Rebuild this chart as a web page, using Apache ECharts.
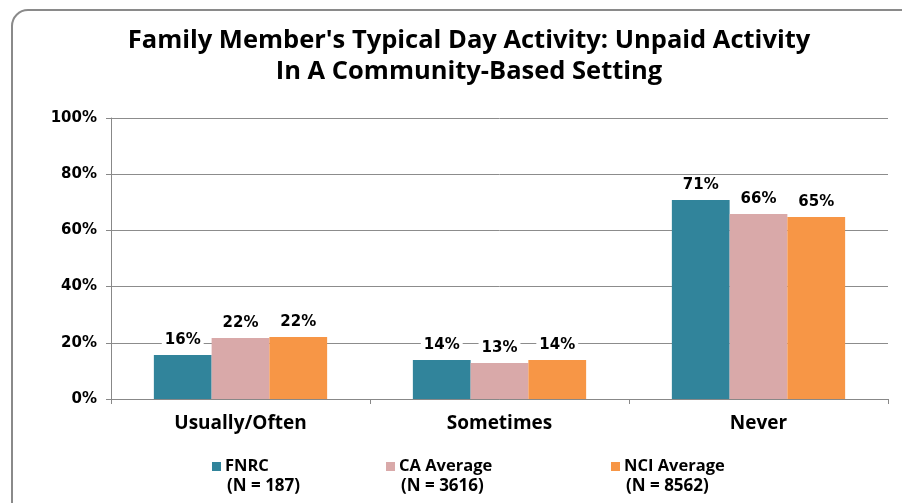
<!DOCTYPE html>
<html><head><meta charset="utf-8">
<script src="https://cdn.jsdelivr.net/npm/echarts@6/dist/echarts.min.js"></script>
<style>html,body{margin:0;padding:0;background:#fff}#c{width:902px;height:503px}</style>
</head><body><div id="c"></div>
<script>
const categories = ['Usually/Often', 'Sometimes', 'Never'];
const seriesNames = ['FNRC', 'CA Average', 'NCI Average'];
const seriesN = ['(N = 187)', '(N = 3616)', '(N = 8562)'];
const fnrc = [15.7, 13.9, 70.8];
const caAvg = [21.7, 12.8, 65.8];
const nciAvg = [22.1, 13.9, 64.8];
const yTicks = [0, 20, 40, 60, 80, 100];
const colors = ['#31849B', '#D9A9A9', '#F79646'];

const chart = echarts.init(document.getElementById('c'));
const values = [fnrc, caAvg, nciAvg];
const legendLeft = [207, 381, 606];
const labelFont = 'DejaVu Sans';
const calFont = 'Open Sans';

const option = {
  animation: false,
  title: {
    text: "Family Member's Typical Day Activity: Unpaid Activity\nIn A Community-Based Setting",
    left: 464, top: 20, textAlign: 'center',
    textStyle: { fontFamily: calFont, fontWeight: 'bold', fontSize: 25.5, lineHeight: 31, color: '#000' }
  },
  legend: seriesNames.map((n, i) => ({
    data: [n], left: legendLeft[i], top: 453, itemWidth: 9, itemHeight: 9, itemGap: 7,
    icon: 'rect',
    textStyle: { fontFamily: calFont, fontWeight: 'bold', fontSize: 16.5, color: '#000', padding: [0,0,0,-1] }
  })),
  grid: { left: 111, right: 14, top: 118, bottom: 104, containLabel: false },
  xAxis: {
    type: 'category', data: categories,
    axisLine: { lineStyle: { color: '#888', width: 1 } },
    axisTick: { show: true, length: 5, lineStyle: { color: '#888' } },
    axisLabel: { fontFamily: calFont, fontWeight: 'bold', fontSize: 19, color: '#000', margin: 15 }
  },
  yAxis: {
    type: 'value', min: 0, max: 100, interval: 20,
    axisLine: { show: true, lineStyle: { color: '#888' } },
    axisTick: { show: true, length: 5, lineStyle: { color: '#888' } },
    splitLine: { lineStyle: { color: '#8c8c8c', width: 1 } },
    axisLabel: { formatter: v => yTicks.includes(v) ? v + '%' : '', fontFamily: labelFont, fontWeight: 'bold', fontSize: 15, color: '#000', margin: 14 }
  },
  series: seriesNames.map((n, i) => ({
    name: n, type: 'bar', data: values[i], barWidth: '22.3%', barGap: '0%',
    itemStyle: { color: colors[i] },
    label: { show: true, position: 'top', distance: 6, formatter: p => Math.round(p.value) + '%',
      fontFamily: labelFont, fontWeight: 'bold', fontSize: 15, color: '#000',
      backgroundColor: '#fff', padding: [1, 3, 1, 3] }
  })),
  graphic: [
    { type: 'rect', shape: { x: 12, y: 10, width: 920, height: 540, r: 16 }, style: { fill: 'none', stroke: '#8a8a8a', lineWidth: 2 }, z: 100 }
  ].concat(seriesN.map((t, i) => ({
    type: 'text', left: legendLeft[i] + 20, top: 478,
    style: { text: t, fontFamily: calFont, fontWeight: 'bold', fontSize: 17, fill: '#000' }
  })))
};
chart.setOption(option);
</script></body></html>
